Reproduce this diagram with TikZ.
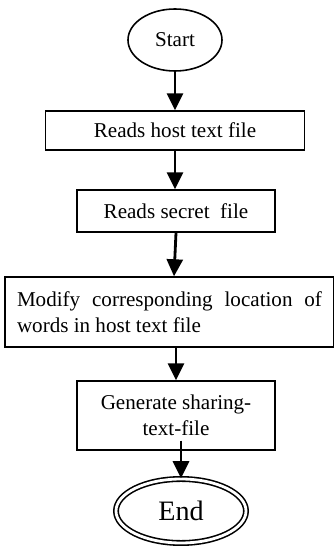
\documentclass[tikz,border=0pt]{standalone}
\usepackage{fontspec}
\setmainfont{Liberation Serif}
\usepackage{tikz}
\usetikzlibrary{calc, positioning, arrows.meta, shapes.geometric}

\tikzset{
  stepbox/.style={draw, line width=0.8pt, minimum width=3.96cm, align=center, inner sep=2pt},
  termnode/.style={draw, ellipse, line width=0.9pt, inner sep=0pt},
  flowarrow/.style={-{Triangle[width=0.32cm, length=0.34cm]}, line width=1.6pt}
}

\begin{document}
\begin{tikzpicture}[font=\fontsize{12}{14.5}\selectfont]
  % Frame of the picture
  \useasboundingbox (0,0) rectangle (6.68,10.94);

  % Terminals and process steps
  \node[termnode, minimum width=1.88cm, minimum height=1.24cm] (start) at (3.5,10.14) {Start};
  \node[stepbox, minimum width=5.18cm, minimum height=0.78cm] (readhost) at (3.5,8.33) {Reads host text file};
  \node[stepbox, minimum height=0.84cm] (readsecret) at (3.52,6.72) {Reads secret\ \ file};
  \node[stepbox, minimum width=6.58cm, minimum height=1.4cm, text width=6.1cm, align=justify, inner sep=4pt] (modify) at (3.39,4.70)
    {Modify corresponding location of words in host text file};
  \node[stepbox, minimum height=1.38cm] (generate) at (3.52,2.63) {Generate sharing-\\text-file};
  \node[termnode, double, double distance=1.6pt, minimum width=2.6cm, minimum height=1.28cm,
    font=\fontsize{16}{19}\selectfont] (stop) at (3.62,0.72) {End};

  % Connectors
  \draw[flowarrow] (start) -- (readhost);
  \draw[flowarrow] (readhost.south) -- (readhost.south |- readsecret.north);
  \draw[flowarrow] (readsecret.south) -- ($(modify.north)+(0.09,0)$);
  \draw[flowarrow] (modify.south -| readsecret.south) -- (generate.north);
  \draw[flowarrow, shorten <=-0.2cm] (generate.south -| stop.north) -- (stop.north);
\end{tikzpicture}
\end{document}
